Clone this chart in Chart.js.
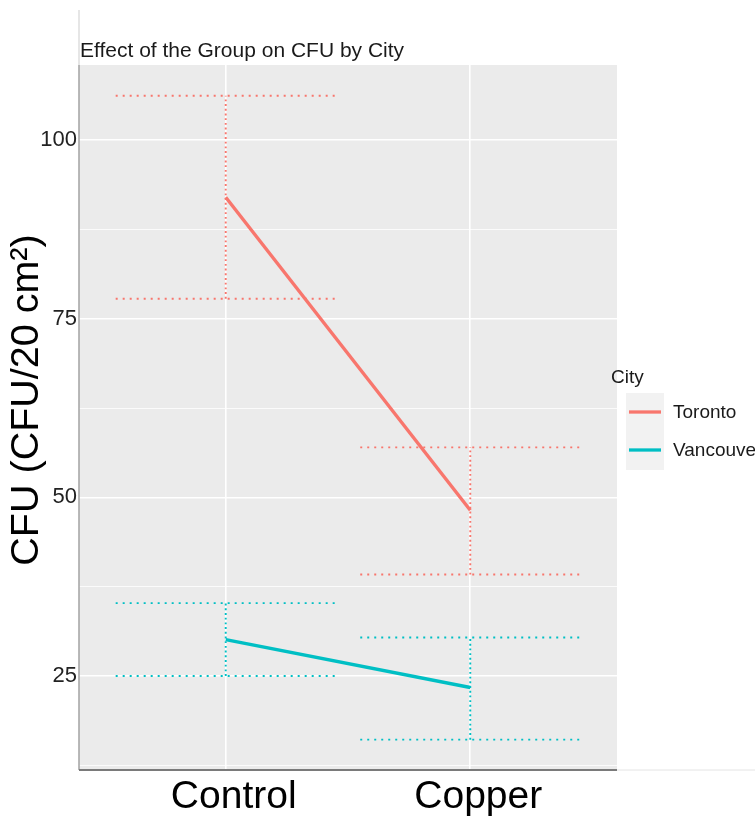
<!DOCTYPE html>
<html>
<head>
<meta charset="utf-8">
<script src="https://cdn.jsdelivr.net/npm/chart.js@4.4.1/dist/chart.umd.min.js"></script>
<style>
  html, body { margin: 0; padding: 0; background: #ffffff; }
  #wrap { width: 755px; height: 816px; position: relative; }
</style>
</head>
<body>
<div id="wrap"><canvas id="cfu"></canvas></div>
<script>
// Groups on the x axis (positions 1 and 2)
const groups = ['Control', 'Copper'];
const cities = ['Toronto', 'Vancouver'];
const cityColors = ['#F8766D', '#00BFC4'];

// Mean CFU per city for each group
const torontoMean = [92.0, 48.2];
const vancouverMean = [30.1, 23.4];
// Upper / lower error limits
const torontoUpper = [106.2, 57.0];
const torontoLower = [77.8, 39.2];
const vancouverUpper = [35.2, 30.4];
const vancouverLower = [25.0, 16.1];

const yTicks = [25, 50, 75, 100];
const yMinorTicks = [12.5, 37.5, 62.5, 87.5];

const title = 'Effect of the Group on CFU by City';
const yTitle = 'CFU (CFU/20 cm²)';
const legendTitle = 'City';

const FONT = '"Liberation Sans", Arial, sans-serif';
const barHalf = 0.45;

function errorDatasets(upper, lower, color) {
  const sets = [];
  groups.forEach((g, i) => {
    const x = i + 1;
    const common = {
      borderColor: color, borderWidth: 1.9,
      pointRadius: 0, fill: false, tension: 0, showLine: true
    };
    const hDash = [2, 5];
    const vDash = [1.9, 2.8];
    sets.push(Object.assign({ borderDash: hDash, data: [{x: x - barHalf, y: upper[i]}, {x: x + barHalf, y: upper[i]}] }, common));
    sets.push(Object.assign({ borderDash: hDash, data: [{x: x - barHalf, y: lower[i]}, {x: x + barHalf, y: lower[i]}] }, common));
    sets.push(Object.assign({ borderDash: vDash, data: [{x: x, y: lower[i]}, {x: x, y: upper[i]}] }, common));
  });
  return sets;
}

function meanDataset(label, means, color) {
  return {
    label: label,
    data: means.map((v, i) => ({x: i + 1, y: v})),
    borderColor: color, borderWidth: 3.4, pointRadius: 0,
    fill: false, tension: 0, showLine: true
  };
}

const datasets = [
  ...errorDatasets(torontoUpper, torontoLower, cityColors[0]),
  ...errorDatasets(vancouverUpper, vancouverLower, cityColors[1]),
  meanDataset(cities[0], torontoMean, cityColors[0]),
  meanDataset(cities[1], vancouverMean, cityColors[1])
];

// Grey panel, axis lines, titles and the legend
const decor = {
  id: 'decor',
  beforeDraw(chart) {
    const {ctx, chartArea: a} = chart;
    ctx.save();
    ctx.fillStyle = '#EBEBEB';
    ctx.fillRect(a.left, a.top, a.right - a.left, a.bottom - a.top);
    ctx.restore();
  },
  afterDraw(chart) {
    const {ctx, chartArea: a} = chart;
    ctx.save();
    // left axis line
    ctx.strokeStyle = '#d6d6d6';
    ctx.lineWidth = 1.2;
    ctx.beginPath(); ctx.moveTo(a.left, 10); ctx.lineTo(a.left, a.top); ctx.stroke();
    ctx.strokeStyle = '#a8a8a8';
    ctx.lineWidth = 1.6;
    ctx.beginPath(); ctx.moveTo(a.left, a.top); ctx.lineTo(a.left, a.bottom); ctx.stroke();
    // bottom axis line
    ctx.strokeStyle = '#7a7a7a';
    ctx.lineWidth = 2;
    ctx.beginPath(); ctx.moveTo(a.left, a.bottom); ctx.lineTo(a.right, a.bottom); ctx.stroke();
    ctx.strokeStyle = '#e4e4e4';
    ctx.lineWidth = 1;
    ctx.beginPath(); ctx.moveTo(a.right, a.bottom); ctx.lineTo(755, a.bottom); ctx.stroke();

    // title
    ctx.fillStyle = '#1a1a1a';
    ctx.font = '21px ' + FONT;
    ctx.textAlign = 'left';
    ctx.textBaseline = 'alphabetic';
    ctx.fillText(title, a.left + 1, 57);

    // y axis title
    ctx.save();
    ctx.translate(27, 400);
    ctx.rotate(-Math.PI / 2);
    ctx.font = '39.5px ' + FONT;
    ctx.textAlign = 'center';
    ctx.textBaseline = 'middle';
    ctx.fillStyle = '#000000';
    ctx.fillText(yTitle, 0, 0);
    ctx.restore();

    // legend
    ctx.fillStyle = '#1a1a1a';
    ctx.font = '19px ' + FONT;
    ctx.textAlign = 'left';
    ctx.textBaseline = 'alphabetic';
    ctx.fillText(legendTitle, 611, 383);
    ctx.fillStyle = '#F2F2F2';
    ctx.fillRect(626, 393, 38, 77);
    cities.forEach((c, i) => {
      const y = 412 + i * 38;
      ctx.strokeStyle = cityColors[i];
      ctx.lineWidth = 3.3;
      ctx.beginPath(); ctx.moveTo(629, y); ctx.lineTo(661, y); ctx.stroke();
      ctx.fillStyle = '#1a1a1a';
      ctx.textBaseline = 'middle';
      ctx.fillText(c, 673, y + 1);
    });
    ctx.restore();
  }
};

new Chart(document.getElementById('cfu'), {
  type: 'line',
  data: { datasets },
  plugins: [decor],
  options: {
    responsive: true,
    maintainAspectRatio: false,
    animation: false,
    layout: { padding: { left: 0, top: 65, right: 138, bottom: 0 } },
    plugins: { legend: { display: false }, tooltip: { enabled: false }, title: { display: false } },
    scales: {
      x: {
        type: 'linear', min: 0.4, max: 2.6,
        afterFit(s) { s.height = 46; },
        afterBuildTicks(s) { s.ticks = groups.map((g, i) => ({ value: i + 1 })); },
        ticks: {
          autoSkip: false, maxRotation: 0, padding: 4, labelOffset: 8,
          color: '#000000',
          font: { family: FONT, size: 39 },
          callback: (v) => groups[v - 1] || ''
        },
        grid: { color: '#ffffff', lineWidth: 1.6, drawTicks: false },
        border: { display: false }
      },
      y: {
        type: 'linear', min: 11.85, max: 110.5,
        afterFit(s) { s.width = 79; },
        afterBuildTicks(s) {
          s.ticks = [...yMinorTicks, ...yTicks].sort((p, q) => p - q).map(v => ({ value: v }));
        },
        ticks: {
          autoSkip: false, padding: 2,
          color: '#222222',
          font: { family: FONT, size: 22 },
          callback: (v) => yTicks.includes(v) ? String(v) : ''
        },
        grid: {
          color: '#ffffff',
          lineWidth: (c) => yTicks.includes(c.tick && c.tick.value) ? 1.6 : 0.8,
          drawTicks: false
        },
        border: { display: false }
      }
    }
  }
});
</script>
</body>
</html>
